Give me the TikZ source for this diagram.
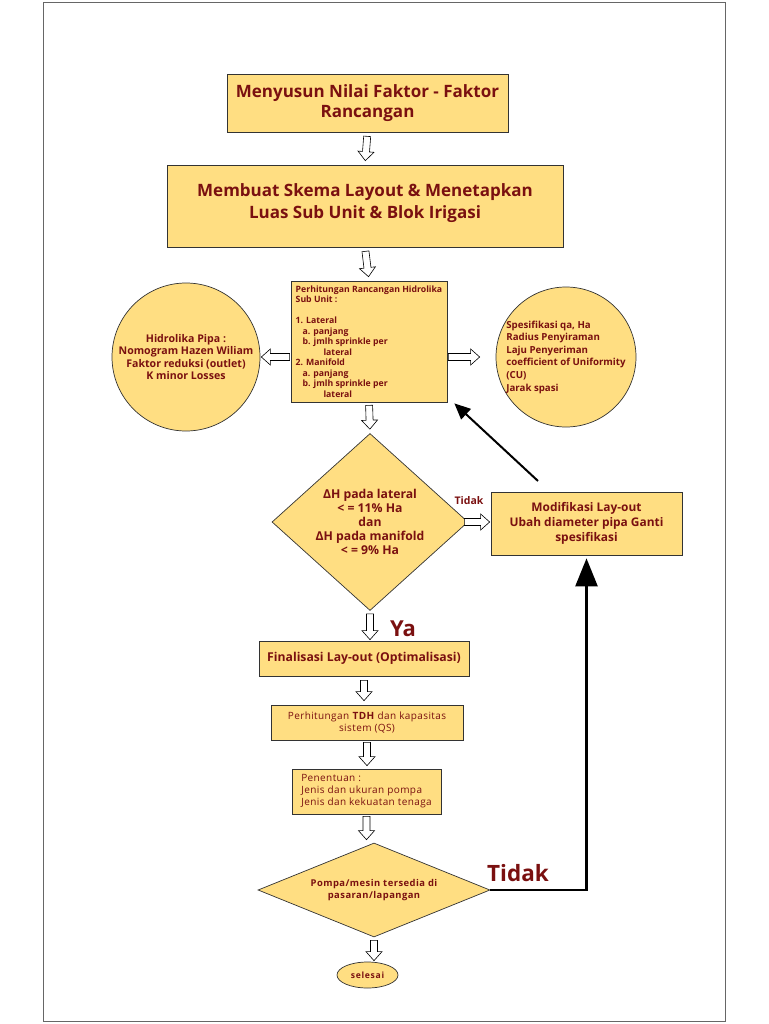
\documentclass[tikz,border=0pt]{standalone}
\usepackage{fontspec}
\setmainfont{Open Sans}
\usetikzlibrary{shapes.geometric,arrows.meta,calc}
\definecolor{boxfill}{RGB}{255,222,130}
\definecolor{txt}{RGB}{122,16,16}
\tikzset{hs/.store in=\hs, he/.store in=\he, hs=4pt, he=4pt}
\begin{document}
\begin{tikzpicture}[x=1pt,y=-1pt,
 box/.style={draw=black!80, line width=0.7pt, fill=boxfill, text=txt, font=\bfseries, align=center, inner sep=2pt},
 hollow/.style={draw=black, fill=white, line width=0.6pt,
   to path={let \p1=($(\tikztostart)!\hs!(\tikztotarget)$), \p2=($(\tikztotarget)!\he!(\tikztostart)$),
     \n1={atan2(\y2-\y1,\x2-\x1)}, \n2={veclen(\x2-\x1,\y2-\y1)-9} in
     ($(\p1)+(\n1+90:3.5pt)$) -- ($(\p1)+(\n1:\n2)+(\n1+90:3.5pt)$) -- ($(\p1)+(\n1:\n2)+(\n1+90:8pt)$)
     -- (\p2) -- ($(\p1)+(\n1:\n2)+(\n1-90:8pt)$) -- ($(\p1)+(\n1:\n2)+(\n1-90:3.5pt)$) -- ($(\p1)+(\n1-90:3.5pt)$) -- cycle}},
 lbl/.style={text=txt, font=\bfseries, inner sep=0pt},
]
\useasboundingbox (0,0) rectangle (768,1024);
\draw[black!60, line width=1pt] (43,3) rectangle (725,1021);

\node[box, minimum width=281pt, minimum height=58pt, font=\bfseries\fontsize{17}{20.5}\selectfont] (b1) at (367.5,103)
  {Menyusun Nilai Faktor - Faktor\\Rancangan};
\node[box, minimum width=396pt, minimum height=82pt, font=\bfseries\fontsize{17}{22}\selectfont, text depth=9pt] (b2) at (365,206)
  {Membuat Skema Layout \& Menetapkan\\Luas Sub Unit \& Blok Irigasi};
\node[box, minimum width=156pt, minimum height=121pt, align=left, font=\bfseries\fontsize{8.7}{10.5}\selectfont] (b3) at (369,341.5)
  {Perhitungan Rancangan Hidrolika\\Sub Unit :\\[10.5pt]1. Lateral\\\hspace*{0.8em}a. panjang\\\hspace*{0.8em}b. jmlh sprinkle per\\\hspace*{3.2em}lateral\\2. Manifold\\\hspace*{0.8em}a. panjang\\\hspace*{0.8em}b. jmlh sprinkle per\\\hspace*{3.2em}lateral};
\node[box, circle, minimum size=148pt, inner sep=0pt, font=\bfseries\fontsize{10.6}{12.2}\selectfont] (cl) at (186,357)
  {Hidrolika Pipa :\\Nomogram Hazen Wiliam\\Faktor reduksi (outlet)\\K minor Losses};
\node[box, circle, minimum size=140pt, inner sep=0pt, align=left, font=\bfseries\fontsize{9.7}{12.6}\selectfont] (cr) at (566,357)
  {Spesifikasi qa, Ha\\Radius Penyiraman\\Laju Penyeriman\\coefficient of Uniformity\\(CU)\\Jarak spasi};
\node[box, diamond, minimum width=196pt, minimum height=177pt, shape aspect=1.1, inner sep=0pt, font=\bfseries\fontsize{12.2}{14.2}\selectfont] (d1) at (370,522)
  {ΔH pada lateral\\< = 11\% Ha\\dan\\ΔH pada manifold\\< = 9\% Ha};
\node[box, minimum width=191pt, minimum height=63pt, font=\bfseries\fontsize{11.9}{15}\selectfont] (b4) at (586.5,523.5)
  {Modifikasi Lay-out\\Ubah diameter pipa Ganti\\spesifikasi};
\node[box, minimum width=210pt, minimum height=35pt, font=\bfseries\fontsize{12.2}{15}\selectfont] (b5) at (364,658.5)
  {Finalisasi Lay-out (Optimalisasi)};
\node[box, minimum width=192pt, minimum height=35pt, font=\fontsize{10}{12.5}\selectfont\addfontfeature{LetterSpace=4}] (b6) at (367,722.5)
  {Perhitungan \textbf{TDH} dan kapasitas\\sistem (QS)};
\node[box, minimum width=149pt, minimum height=45pt, align=left, font=\fontsize{10}{12}\selectfont\addfontfeature{LetterSpace=4}] (b7) at (366.5,791.5)
  {Penentuan :\\Jenis dan ukuran pompa\\Jenis dan kekuatan tenaga};
\node[box, diamond, minimum width=232pt, minimum height=94pt, shape aspect=2.4, inner sep=0pt, font=\bfseries\fontsize{9.4}{12}\selectfont\addfontfeature{LetterSpace=5}] (d2) at (374,890)
  {Pompa/mesin tersedia di\\pasaran/lapangan};
\node[box, ellipse, minimum width=61pt, minimum height=26pt, inner sep=0pt, font=\bfseries\fontsize{8.6}{10}\selectfont\addfontfeature{LetterSpace=8}] (e) at (367.5,975)
  {selesai};

\draw[hollow] (b1.south) to (b2.north);
\draw[hollow] (b2.south) to (b3.north);
\draw[hollow, hs=1pt, he=1pt] (b3.west |- cl.east) to (cl.east);
\draw[hollow, hs=1pt, he=16pt] (b3.east |- cr.west) to (cr.west);
\draw[hollow, hs=3pt, he=4pt] (b3.south) to (d1.north);
\draw[hollow, hs=-4pt, he=1pt] (d1.east) to (d1.east -| b4.west);
\draw[hollow, hs=3pt, he=1pt] (d1.south) to (d1.south |- b5.north);
\draw[hollow] (b5.south) to (b5.south |- b6.north);
\draw[hollow, hs=2pt, he=3pt] (b6.south) to (b6.south |- b7.north);
\draw[hollow, hs=2pt, he=3pt] (b7.south) to (b7.south |- d2.north);
\draw[hollow, hs=3pt, he=1pt] (d2.south) to (d2.south |- e.north);

\node[lbl, font=\bfseries\fontsize{10.5}{12}\selectfont] (t1) at (469,501) {Tidak};
\node[lbl, font=\bfseries\fontsize{22.5}{26}\selectfont] (t2) at (518,873) {Tidak};
\node[lbl, font=\bfseries\fontsize{22}{24}\selectfont] (ya) at (403,629) {Ya};

\coordinate (fb) at (538,481);
\draw[line width=2pt, -{Triangle[length=16pt,width=14pt]}] (fb) -- ([xshift=7pt,yshift=-1pt]b3.south east);
\coordinate (cn) at (d2.east -| b4.south);
\draw[line width=2.5pt, -{Triangle[length=28pt,width=22pt]}, shorten >=3pt] (d2.east) -- (cn) -- (b4.south);
\end{tikzpicture}
\end{document}
